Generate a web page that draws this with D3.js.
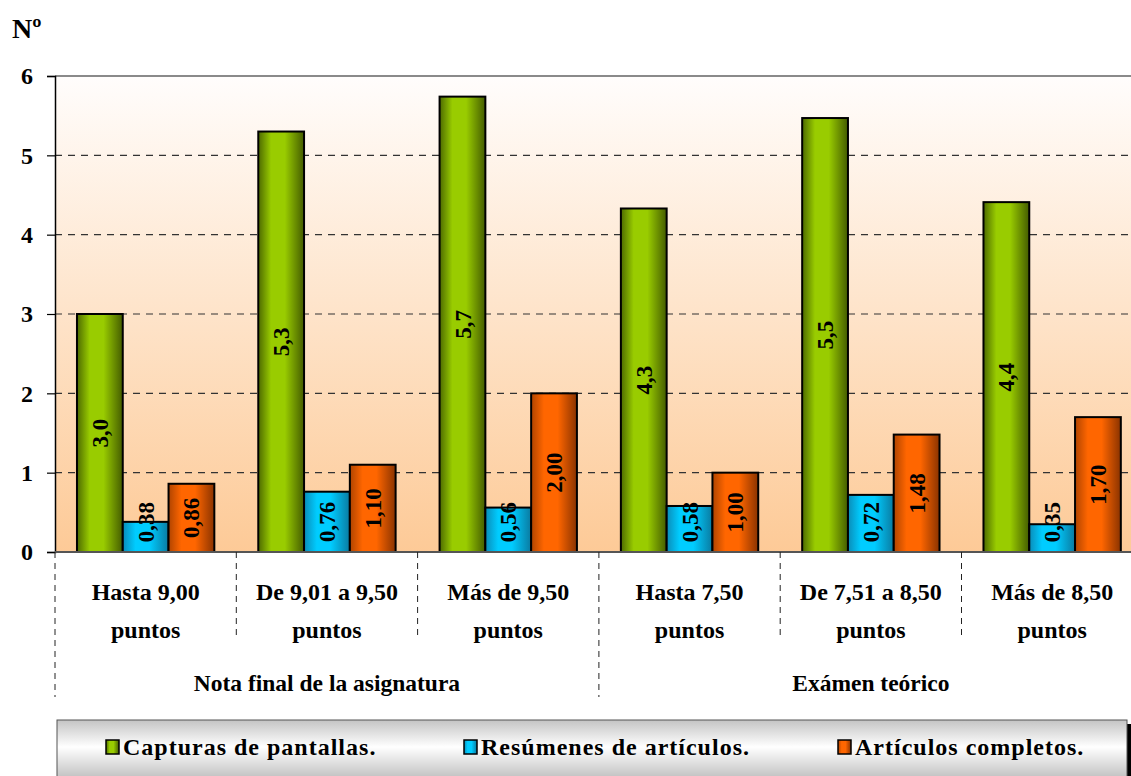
<!DOCTYPE html>
<html><head><meta charset="utf-8">
<script src="https://cdn.jsdelivr.net/npm/d3@7"></script>
<style>
html,body{margin:0;padding:0;background:#fff;overflow:hidden;}
svg{display:block;}
svg text{font-family:'Liberation Serif','Times New Roman',Times,serif;font-weight:700;}
</style></head><body>
<svg id="c" width="1131" height="776" font-family="Liberation Serif, Times New Roman, serif" font-weight="bold"></svg>
<script>
const groups = ["Nota final de la asignatura", "Exámen teórico"];
const categories = [
  ["Hasta 9,00", "puntos"], ["De 9,01 a 9,50", "puntos"], ["Más de 9,50", "puntos"],
  ["Hasta 7,50", "puntos"], ["De 7,51 a 8,50", "puntos"], ["Más de 8,50", "puntos"]
];
const categoryGroup = [0, 0, 0, 1, 1, 1];
const seriesNames = ["Capturas de pantallas.", "Resúmenes de artículos.", "Artículos completos."];
const capturas = [3.0, 5.3, 5.74, 4.33, 5.47, 4.41];
const resumenes = [0.38, 0.76, 0.56, 0.58, 0.72, 0.35];
const completos = [0.86, 1.10, 2.00, 1.00, 1.48, 1.70];
const seriesDecimals = [1, 2, 2];
const yTicks = [0, 1, 2, 3, 4, 5, 6];
const yTitle = "Nº";

(function () {
const seriesValues = [capturas, resumenes, completos];
const svg = d3.select("#c");
const defs = svg.append("defs");

const pLeft = 55, pTop = 76, pBottom = 552, groupW = 181.3;
const pRight = pLeft + groupW * categories.length;

const y = d3.scaleLinear().domain([0, 6]).range([pBottom, pTop]);
const x0 = d3.scaleBand().domain(d3.range(categories.length)).range([pLeft, pRight]).padding(0);
const x1 = d3.scaleBand().domain(d3.range(3)).range([0, x0.bandwidth()]).paddingInner(0).paddingOuter(0.48);

const bg = defs.append("linearGradient").attr("id", "bg").attr("x1", 0).attr("y1", 0).attr("x2", 0).attr("y2", 1);
bg.append("stop").attr("offset", "0%").attr("stop-color", "#fffdfc");
bg.append("stop").attr("offset", "100%").attr("stop-color", "#fdca97");

const barCols = [
  ["#4d6a00", "#99cc00", "#99cc00", "#445c00"],
  ["#0a8cb8", "#00ccff", "#00ccff", "#0a7aa0"],
  ["#b04400", "#ff6600", "#ff6600", "#8a3300"]
];
barCols.forEach((c, i) => {
  const g = defs.append("linearGradient").attr("id", "bar" + i).attr("x1", 0).attr("y1", 0).attr("x2", 1).attr("y2", 0);
  g.append("stop").attr("offset", "0%").attr("stop-color", c[0]);
  g.append("stop").attr("offset", "28%").attr("stop-color", c[1]);
  g.append("stop").attr("offset", "58%").attr("stop-color", c[2]);
  g.append("stop").attr("offset", "100%").attr("stop-color", c[3]);
});
const lg = defs.append("linearGradient").attr("id", "leg").attr("x1", 0).attr("y1", 0).attr("x2", 0).attr("y2", 1);
lg.append("stop").attr("offset", "0%").attr("stop-color", "#c4c4c4");
lg.append("stop").attr("offset", "45%").attr("stop-color", "#ffffff");
lg.append("stop").attr("offset", "100%").attr("stop-color", "#bdbdbd");

svg.append("rect").attr("x", pLeft).attr("y", pTop).attr("width", pRight - pLeft).attr("height", pBottom - pTop).attr("fill", "url(#bg)");

svg.append("g").selectAll("line").data(yTicks.filter(t => t > 0 && t < 6)).join("line")
  .attr("x1", pLeft).attr("x2", pRight).attr("y1", d => y(d)).attr("y2", d => y(d))
  .attr("stroke", "#333").attr("stroke-width", 1.2).attr("stroke-dasharray", "7,6");
svg.append("line").attr("x1", pLeft).attr("x2", pRight).attr("y1", pTop).attr("y2", pTop)
  .attr("stroke", "#8a8a8a").attr("stroke-width", 2);

const yAxis = d3.axisLeft(y).tickValues(yTicks).tickSize(8).tickPadding(14).tickFormat(d3.format("d"));
const ya = svg.append("g").attr("transform", `translate(${pLeft},0)`).call(yAxis);
ya.attr("font-family", null).attr("font-size", null);
ya.select(".domain").attr("stroke", "#000").attr("stroke-width", 1.5);
ya.selectAll(".tick line").attr("stroke", "#000").attr("stroke-width", 1.2);
ya.selectAll(".tick text").attr("font-size", 24).attr("fill", "#000");

svg.append("text").attr("x", 12).attr("y", 38).attr("font-size", 28).text(yTitle);

const fmt = (v, d) => v.toFixed(d).replace(".", ",");
seriesValues.forEach((vals, s) => {
  const g = svg.append("g");
  g.selectAll("rect").data(vals).join("rect")
    .attr("x", (d, i) => x0(i) + x1(s))
    .attr("y", d => y(d))
    .attr("width", x1.bandwidth())
    .attr("height", d => y(0) - y(d))
    .attr("fill", `url(#bar${s})`)
    .attr("stroke", "#000").attr("stroke-width", 2);
  g.selectAll("text").data(vals).join("text")
    .attr("transform", (d, i) => {
      const cx = x0(i) + x1(s) + x1.bandwidth() / 2;
      let cy = (y(d) + y(0)) / 2;
      cy = Math.min(cy, y(0) - 30);
      return `translate(${cx},${cy}) rotate(-90)`;
    })
    .attr("text-anchor", "middle").attr("dy", "0.35em")
    .attr("font-size", 23).attr("fill", "#000")
    .text(d => fmt(d, seriesDecimals[s]));
});

svg.append("line").attr("x1", pLeft).attr("x2", pRight).attr("y1", pBottom).attr("y2", pBottom)
  .attr("stroke", "#555").attr("stroke-width", 2);

const xa = svg.append("g");
d3.range(categories.length + 1).forEach(i => {
  const xx = i < categories.length ? x0(i) : pRight;
  const outer = (i === 0 || i === categories.length || categoryGroup[i] !== categoryGroup[i - 1]);
  xa.append("line").attr("x1", xx).attr("x2", xx).attr("y1", pBottom).attr("y2", outer ? 697 : 638)
    .attr("stroke", "#222").attr("stroke-width", 1).attr("stroke-dasharray", "6,5");
});
categories.forEach((lines, i) => {
  const t = xa.append("text").attr("x", x0(i) + x0.bandwidth() / 2).attr("text-anchor", "middle").attr("font-size", 24);
  lines.forEach((ln, k) => t.append("tspan").attr("x", x0(i) + x0.bandwidth() / 2).attr("y", 600 + k * 38).text(ln));
});
groups.forEach((gName, gi) => {
  const idx = categoryGroup.map((g, i) => g === gi ? i : -1).filter(i => i >= 0);
  const x0g = x0(idx[0]), x1g = x0(idx[idx.length - 1]) + x0.bandwidth();
  xa.append("text").attr("x", (x0g + x1g) / 2).attr("y", 691).attr("text-anchor", "middle").attr("font-size", 23.5).text(gName);
});

const L = svg.append("g");
L.append("rect").attr("x", 61).attr("y", 724).attr("width", 1070).attr("height", 60).attr("fill", "#000");
L.append("rect").attr("x", 57).attr("y", 720).attr("width", 1070).attr("height", 60)
  .attr("fill", "url(#leg)").attr("stroke", "#555").attr("stroke-width", 1);
const legX = [106, 464, 838];
seriesNames.forEach((n, s) => {
  L.append("rect").attr("x", legX[s]).attr("y", 740).attr("width", 13).attr("height", 14)
    .attr("fill", `url(#bar${s})`).attr("stroke", "#000").attr("stroke-width", 1.5);
  L.append("text").attr("x", legX[s] + 17).attr("y", 755).attr("font-size", 24).attr("letter-spacing", 1).text(n);
});
})();
</script>
</body></html>
